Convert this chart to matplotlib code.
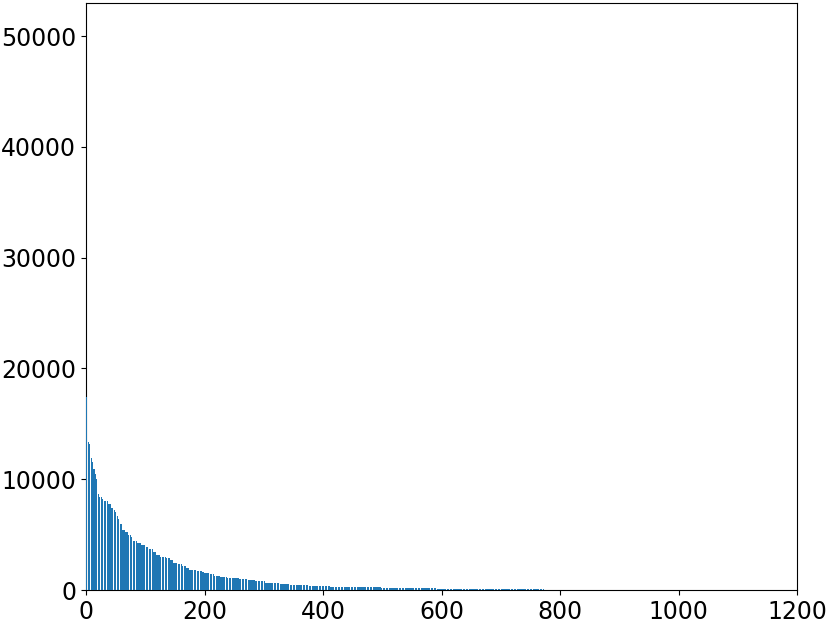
import numpy as np
import matplotlib
matplotlib.use("Agg")
import matplotlib.pyplot as plt

# Sorted bar heights, as (level, number of bars at that level)
levels = [17460, 14300, 13400, 13200, 11900, 11600, 10900, 10500, 10000, 9600,
          8700, 8400, 8200, 8000, 7750, 7400, 7200, 7000, 6700, 6400,
          6000, 5400, 5200, 4950, 4800, 4450, 4250, 4060, 3850, 3660,
          3450, 3150, 3000, 2850, 2700, 2480, 2330, 2170, 2030, 1850,
          1780, 1720, 1650, 1560, 1400, 1260, 1150, 1060, 980, 860,
          780, 640, 600, 520, 450, 340, 290, 240, 160, 110]
counts = [1, 1, 2, 2, 3, 3, 2, 2, 2, 2,
          2, 4, 4, 6, 5, 4, 3, 3, 3, 3,
          4, 5, 5, 4, 3, 7, 7, 9, 4, 7,
          5, 8, 9, 7, 6, 6, 8, 7, 5, 7,
          7, 8, 4, 9, 8, 10, 12, 20, 15, 11,
          18, 12, 13, 17, 31, 37, 40, 45, 95, 180]

heights = np.repeat(levels, counts)
positions = np.arange(1, len(heights) + 1)

fig = plt.figure(figsize=(8.3, 6.23), dpi=100)
ax = fig.add_axes([86/830, 1 - 590/623, (797 - 86)/830, (590 - 3)/623])
ax.bar(positions, heights, color="#1f77b4", width=0.8, zorder=3)
ax.set_xlim(0, 1200)
ax.set_ylim(0, 53000)
ax.tick_params(labelsize=17)
fig.savefig("out.png", dpi=100)
